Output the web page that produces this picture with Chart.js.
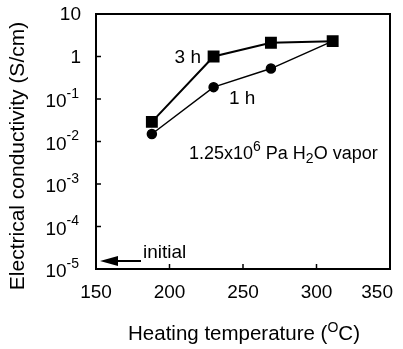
<!DOCTYPE html>
<html>
<head>
<meta charset="utf-8">
<script src="https://cdn.jsdelivr.net/npm/chart.js@4.4.1/dist/chart.umd.min.js"></script>
<style>
  html, body { margin: 0; padding: 0; background: #fff; }
  #wrap { width: 403px; height: 349px; position: relative; }
</style>
</head>
<body>
<div id="wrap"><canvas id="myChart"></canvas></div>
<script>
// heating temperature (C)
const temps = [188, 230, 269, 311];
// conductivity (S/cm)
const cond3h = [0.029, 1.0, 2.1, 2.3];
const cond1h = [0.015, 0.19, 0.52, 2.3];
const xTicks = [150, 200, 250, 300, 350];
const yExps = [1, 0, -1, -2, -3, -4, -5];

const FONT = "'Liberation Sans', Arial, sans-serif";

function toPts(xs, ys) {
  return xs.map((x, i) => ({ x: x, y: ys[i] }));
}

// draws frame, inward ticks, tick labels, titles and notes
const decor = {
  id: "decor",
  afterDraw(chart) {
    const ctx = chart.ctx;
    const a = chart.chartArea;
    const sx = chart.scales.x;
    const sy = chart.scales.y;
    ctx.save();
    ctx.strokeStyle = "#000";
    ctx.fillStyle = "#000";
    ctx.lineWidth = 2;
    ctx.strokeRect(a.left, a.top, a.right - a.left, a.bottom - a.top);

    // x ticks
    ctx.lineWidth = 1.5;
    ctx.font = "19px " + FONT;
    ctx.textAlign = "center";
    ctx.textBaseline = "middle";
    xTicks.forEach((t) => {
      const px = sx.getPixelForValue(t);
      if (t > xTicks[0] && t < xTicks[xTicks.length - 1]) {
        ctx.beginPath();
        ctx.moveTo(px, a.bottom);
        ctx.lineTo(px, a.bottom - 5);
        ctx.stroke();
      }
      const half = ctx.measureText(String(t)).width / 2;
      ctx.fillText(String(t), Math.min(px, 393 - half), a.bottom + 24);
    });

    // y ticks
    yExps.forEach((e) => {
      const py = sy.getPixelForValue(Math.pow(10, e));
      if (e < 1 && e > -5) {
        ctx.beginPath();
        ctx.moveTo(a.left, py);
        ctx.lineTo(a.left + 5, py);
        ctx.stroke();
      }
      ctx.textBaseline = "middle";
      if (e === 1 || e === 0) {
        ctx.textAlign = "right";
        ctx.font = "19px " + FONT;
        ctx.fillText(e === 1 ? "10" : "1", a.left - 15, py + 1);
      } else {
        const sup = String(e);
        ctx.font = "14px " + FONT;
        const w = ctx.measureText(sup).width;
        ctx.textAlign = "left";
        ctx.fillText(sup, a.left - 17 - w, py - 5);
        ctx.textAlign = "right";
        ctx.font = "19px " + FONT;
        ctx.fillText("10", a.left - 17 - w, py + 3);
      }
    });

    // y title
    ctx.save();
    ctx.translate(18, 156);
    ctx.rotate(-Math.PI / 2);
    ctx.font = "21px " + FONT;
    ctx.textAlign = "center";
    ctx.textBaseline = "middle";
    ctx.fillText("Electrical conductivity (S/cm)", 0, 0);
    ctx.restore();

    // x title with superscript O
    ctx.textBaseline = "alphabetic";
    ctx.textAlign = "left";
    const p1 = "Heating temperature (";
    const p3 = "C)";
    ctx.font = "20.5px " + FONT;
    const w1 = ctx.measureText(p1).width;
    const w3 = ctx.measureText(p3).width;
    ctx.font = "14px " + FONT;
    const w2 = ctx.measureText("O").width;
    let x0 = 244 - (w1 + w2 + w3) / 2;
    ctx.font = "20.5px " + FONT;
    ctx.fillText(p1, x0, 340);
    ctx.font = "14px " + FONT;
    ctx.fillText("O", x0 + w1, 332);
    ctx.font = "20.5px " + FONT;
    ctx.fillText(p3, x0 + w1 + w2, 340);

    // series labels
    ctx.font = "19px " + FONT;
    ctx.textBaseline = "middle";
    ctx.textAlign = "right";
    ctx.fillText("3 h", 201, 58);
    ctx.textAlign = "left";
    ctx.fillText("1 h", 229, 99);

    // condition note
    let nx = 189;
    const ny = 159;
    ctx.textBaseline = "alphabetic";
    const parts = [
      ["1.25x10", 18, 0],
      ["6", 14, -8],
      [" Pa H", 18, 0],
      ["2", 14, 4],
      ["O vapor", 18, 0],
    ];
    parts.forEach((p) => {
      ctx.font = p[1] + "px " + FONT;
      ctx.fillText(p[0], nx, ny + p[2]);
      nx += ctx.measureText(p[0]).width;
    });

    // initial arrow
    const ay = 261;
    ctx.lineWidth = 2;
    ctx.beginPath();
    ctx.moveTo(141, ay);
    ctx.lineTo(112, ay);
    ctx.stroke();
    ctx.beginPath();
    ctx.moveTo(100, ay);
    ctx.lineTo(118, ay - 5);
    ctx.lineTo(118, ay + 5);
    ctx.closePath();
    ctx.fill();
    ctx.font = "19px " + FONT;
    ctx.textAlign = "left";
    ctx.textBaseline = "middle";
    ctx.fillText("initial", 143, 253);
    ctx.restore();
  },
};

new Chart(document.getElementById("myChart"), {
  type: "scatter",
  data: {
    datasets: [
      {
        label: "3 h",
        data: toPts(temps, cond3h),
        showLine: true,
        borderColor: "#000",
        backgroundColor: "#000",
        borderWidth: 2,
        pointStyle: "rect",
        pointRadius: 7,
      },
      {
        label: "1 h",
        data: toPts(temps, cond1h),
        showLine: true,
        borderColor: "#000",
        backgroundColor: "#000",
        borderWidth: 1.5,
        pointStyle: "circle",
        pointRadius: 4.5,
      },
    ],
  },
  options: {
    responsive: true,
    maintainAspectRatio: false,
    animation: false,
    layout: { padding: { left: 96, top: 14, right: 13, bottom: 80 } },
    plugins: { legend: { display: false }, tooltip: { enabled: false } },
    scales: {
      x: {
        type: "linear",
        min: 150,
        max: 350,
        ticks: { display: false },
        grid: { display: false, drawTicks: false },
        border: { display: false },
      },
      y: {
        type: "logarithmic",
        min: 1e-5,
        max: 10,
        ticks: { display: false },
        grid: { display: false, drawTicks: false },
        border: { display: false },
      },
    },
  },
  plugins: [decor],
});
</script>
</body>
</html>
